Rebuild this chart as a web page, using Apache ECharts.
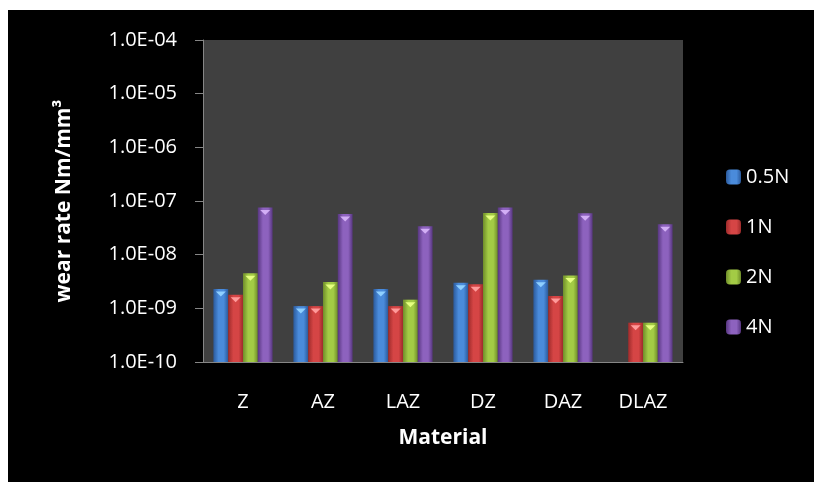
<!DOCTYPE html>
<html>
<head>
<meta charset="utf-8">
<script src="https://cdn.jsdelivr.net/npm/echarts@6/dist/echarts.min.js"></script>
<style>
  html, body { margin: 0; padding: 0; background: #ffffff; }
  #chart { position: absolute; left: 8px; top: 10px; width: 806px; height: 472px; }
</style>
</head>
<body>
<div id="chart"></div>
<script>
// Wear rate (Nm/mm³) per material at four loads
const materials = ['Z', 'AZ', 'LAZ', 'DZ', 'DAZ', 'DLAZ'];
const loads = ['0.5N', '1N', '2N', '4N'];
const wear05N = [2.3e-9, 1.1e-9, 2.3e-9, 3.0e-9, 3.4e-9, null];
const wear1N  = [1.8e-9, 1.1e-9, 1.1e-9, 2.8e-9, 1.7e-9, 5.4e-10];
const wear2N  = [4.5e-9, 3.1e-9, 1.45e-9, 6.0e-8, 4.1e-9, 5.4e-10];
const wear4N  = [7.6e-8, 5.7e-8, 3.4e-8, 7.6e-8, 5.9e-8, 3.7e-8];
const yTicks = ['1.0E-10', '1.0E-09', '1.0E-08', '1.0E-07', '1.0E-06', '1.0E-05', '1.0E-04'];

const seriesValues = [wear05N, wear1N, wear2N, wear4N];
// edge, centre, highlight tones for each load
const palette = [
  ['#2b5a9c', '#4a8bdb', '#8fd0ff'],
  ['#9e2b2b', '#d54545', '#ff9a9a'],
  ['#6f8d2a', '#a3cb45', '#e6ff80'],
  ['#573680', '#8d62be', '#d2aef5']
];
const FONT = '"Open Sans", sans-serif';

function barFill(c) {
  return new echarts.graphic.LinearGradient(0, 0, 1, 0, [
    { offset: 0, color: c[0] },
    { offset: 0.35, color: c[1] },
    { offset: 0.7, color: c[1] },
    { offset: 1, color: c[0] }
  ]);
}

const series = [];
loads.forEach((name, i) => {
  series.push({
    name: name,
    type: 'bar',
    data: seriesValues[i],
    barGap: '0%',
    barCategoryGap: '26%',
    itemStyle: { color: barFill(palette[i]) }
  });
});
// small bevel highlight on each bar top
loads.forEach((name, i) => {
  series.push({
    name: name,
    type: 'pictorialBar',
    data: seriesValues[i],
    barGap: '0%',
    barCategoryGap: '26%',
    symbol: 'triangle',
    symbolRotate: 180,
    symbolSize: [10, 5],
    symbolPosition: 'end',
    symbolOffset: [0, '50%'],
    itemStyle: { color: palette[i][2] },
    silent: true,
    z: 3
  });
});

const chart = echarts.init(document.getElementById('chart'));
chart.setOption({
  backgroundColor: '#000000',
  animation: false,
  textStyle: { fontFamily: FONT },
  grid: {
    left: 195, top: 30, width: 480, height: 322,
    show: true, backgroundColor: '#404040', borderWidth: 0
  },
  legend: {
    orient: 'vertical',
    left: 718, top: 157,
    padding: 0,
    itemWidth: 15, itemHeight: 15, itemGap: 30, itemTextGap: 6,
    data: loads.map((n, i) => ({ name: n, itemStyle: { color: barFill(palette[i]) } })),
    textStyle: { color: '#ffffff', fontSize: 20, fontFamily: FONT }
  },
  xAxis: {
    type: 'category',
    data: materials,
    name: 'Material',
    nameLocation: 'middle',
    nameGap: 66,
    nameTextStyle: { color: '#ffffff', fontSize: 21, fontWeight: 'bold', fontFamily: FONT },
    axisLine: { lineStyle: { color: '#868686', width: 1 } },
    axisTick: { length: 8, lineStyle: { color: '#868686' } },
    axisLabel: { color: '#ffffff', fontSize: 20, margin: 30, fontFamily: FONT },
    splitLine: { show: false }
  },
  yAxis: {
    type: 'log',
    logBase: 10,
    min: 1e-10,
    max: 1e-4,
    startValue: 1e-10,
    name: 'wear rate Nm/mm³',
    nameLocation: 'middle',
    nameGap: 128,
    nameTextStyle: { color: '#ffffff', fontSize: 21, fontWeight: 'bold', fontFamily: FONT },
    axisLine: { show: true, lineStyle: { color: '#868686', width: 1 } },
    axisTick: { show: true, length: 8, lineStyle: { color: '#868686' } },
    axisLabel: {
      color: '#ffffff', fontSize: 20, margin: 26, fontFamily: FONT,
      formatter: v => yTicks[Math.round(Math.log10(v)) + 10]
    },
    splitLine: { show: false }
  },
  series: series
});
</script>
</body>
</html>
